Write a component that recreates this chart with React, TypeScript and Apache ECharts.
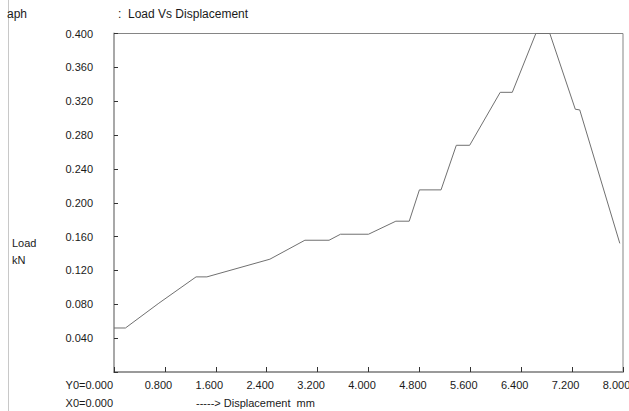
import React, { useEffect, useRef } from "react";
import * as echarts from "echarts";

const displacement = [0, 0.18, 0.705, 1.29, 1.46, 2.45, 3.0, 3.38, 3.56, 4.0, 4.43, 4.64, 4.8, 5.14, 5.38, 5.59, 6.07, 6.26, 6.63, 6.85, 7.25, 7.32, 7.95];
const load = [0.052, 0.052, 0.0813, 0.1124, 0.1124, 0.1333, 0.1557, 0.1557, 0.1628, 0.1628, 0.1782, 0.1782, 0.2152, 0.2152, 0.2679, 0.2679, 0.3305, 0.3305, 0.4, 0.4, 0.3105, 0.3097, 0.152];

const xMin = 0;
const xMax = 8;
const xStep = 0.8;
const yMin = 0;
const yMax = 0.4;
const yStep = 0.04;

const FONT = "Liberation Sans, Arial, sans-serif";

export default function App() {
  const ref = useRef<HTMLDivElement>(null);
  useEffect(() => {
    if (!ref.current) return;
    const chart = echarts.init(ref.current, undefined, { renderer: "svg" });
    const data = displacement.map((x, i) => [x, load[i]]);
    chart.setOption({
      animation: false,
      backgroundColor: "#ffffff",
      textStyle: { fontFamily: FONT },
      grid: {
        left: 114,
        top: 33.5,
        width: 509,
        height: 338.5,
        show: true,
        borderColor: "#858585",
        borderWidth: 1,
        outerBoundsMode: "none",
        containLabel: false,
      },
      xAxis: {
        type: "value",
        min: xMin,
        max: xMax,
        interval: xStep,
        splitLine: { show: false },
        axisLine: { show: true, onZero: false, lineStyle: { color: "#9a9a9a", width: 2 } },
        axisTick: { show: true, inside: true, length: 5, lineStyle: { color: "#333", width: 1 } },
        axisLabel: {
          color: "#1a1a1a",
          fontSize: 11,
          fontFamily: FONT,
          margin: 7,
          padding: [0, 13, 0, 0],
          formatter: (v: number) => (Math.abs(v) < 1e-9 ? "" : v.toFixed(3)),
        },
      },
      yAxis: {
        type: "value",
        min: yMin,
        max: yMax,
        interval: yStep,
        splitLine: { show: false },
        axisLine: { show: true, onZero: false, lineStyle: { color: "#a8a8a8", width: 2 } },
        axisTick: { show: true, inside: true, length: 4, lineStyle: { color: "#333", width: 1 } },
        axisLabel: {
          color: "#1a1a1a",
          fontSize: 11,
          fontFamily: FONT,
          margin: 21,
          padding: [5, 0, 0, 0],
          formatter: (v: number) => (Math.abs(v) < 1e-9 ? "" : v.toFixed(3)),
        },
      },
      series: [
        {
          type: "line",
          data,
          showSymbol: false,
          clip: true,
          lineStyle: { color: "#707070", width: 1 },
        },
      ],
      graphic: [
        { type: "line", shape: { x1: 8.5, y1: 0, x2: 8.5, y2: 411 }, style: { stroke: "#c8c8c8", lineWidth: 1 } },
        { type: "text", left: 7, top: 8, style: { text: "aph", fontSize: 12, fontFamily: FONT, fill: "#1a1a1a" } },
        { type: "text", left: 118, top: 8, style: { text: ":  Load Vs Displacement", fontSize: 12, fontFamily: FONT, fill: "#1a1a1a" } },
        { type: "text", left: 12, top: 237, style: { text: "Load", fontSize: 11, fontFamily: FONT, fill: "#1a1a1a" } },
        { type: "text", left: 12, top: 254, style: { text: "kN", fontSize: 11, fontFamily: FONT, fill: "#1a1a1a" } },
        { type: "text", right: 629 - 113, top: 379, style: { text: "Y0=0.000", fontSize: 11, fontFamily: FONT, fill: "#1a1a1a" } },
        { type: "text", right: 629 - 113, top: 397, style: { text: "X0=0.000", fontSize: 11, fontFamily: FONT, fill: "#1a1a1a" } },
        { type: "text", left: 196, top: 397, style: { text: "-----> Displacement  mm", fontSize: 11, fontFamily: FONT, fill: "#1a1a1a" } },
      ],
    });
    return () => chart.dispose();
  }, []);
  return (
    <div
      ref={ref}
      style={{ position: "fixed", left: 0, top: 0, width: 629, height: 411, background: "#fff" }}
    />
  );
}
